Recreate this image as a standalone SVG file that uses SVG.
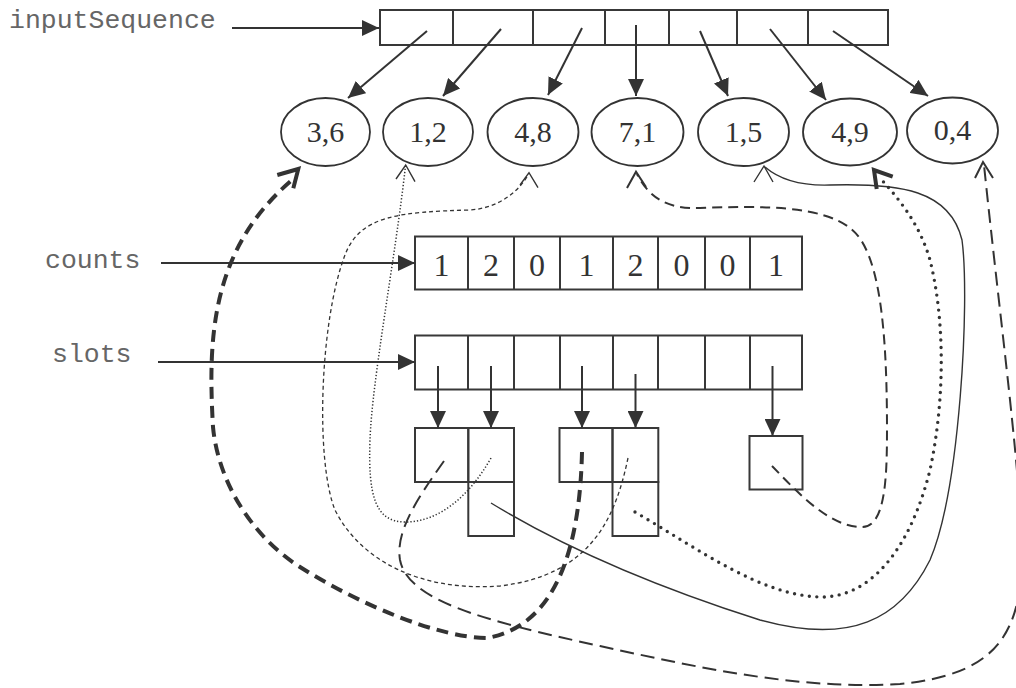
<svg xmlns="http://www.w3.org/2000/svg" width="1016" height="688" viewBox="0 0 1016 688">
<style>
.box{fill:none;stroke:#383838;stroke-width:2}
.ell{fill:none;stroke:#333;stroke-width:1.8}
.num{font-family:"Liberation Serif","Times New Roman",serif;fill:#333;text-anchor:middle}
.lbl{font-family:"Liberation Mono","Courier New",monospace;font-size:26.5px;fill:#666}
.ar{fill:none;stroke:#333;stroke-width:2}
.c{fill:none;stroke:#333}
.thick{stroke-width:4;stroke-dasharray:12 7}
.med{stroke-width:2;stroke-dasharray:14 7}
.md{stroke-width:2;stroke-dasharray:10 6}
.tdash{stroke-width:1.3;stroke-dasharray:4 3}
.tdot{stroke-width:1.5;stroke-dasharray:1.3 2}
.sol{stroke-width:1.4}
.dots{stroke-width:3.4;stroke-dasharray:0 7.5;stroke-linecap:round}
.v{fill:none;stroke:#333;stroke-linejoin:miter}
</style>
<defs>
<marker id="ah" markerUnits="userSpaceOnUse" markerWidth="18" markerHeight="16" viewBox="0 0 18 16" refX="17" refY="8" orient="auto">
<path d="M0,0 L17,8 L0,16 Z" fill="#333"/>
</marker>
</defs>

<g id="label-inputSequence"><text class="lbl" x="9" y="28">inputSequence</text></g>
<g id="label-counts"><text class="lbl" x="45" y="267.5">counts</text></g>
<g id="label-slots"><text class="lbl" x="52" y="361.5">slots</text></g>

<g id="inputSequence-array">
<rect class="box" x="380" y="10" width="508" height="35"/>
<path class="box" d="M453,10V45M533,10V45M605,10V45M669,10V45M737,10V45M808,10V45"/>
</g>

<g id="node-3-6"><ellipse class="ell" cx="325.5" cy="132" rx="44.5" ry="34"/><text class="num" x="325.5" y="142" font-size="30">3,6</text></g>
<g id="node-1-2"><ellipse class="ell" cx="428" cy="132" rx="45" ry="34"/><text class="num" x="428" y="142" font-size="30">1,2</text></g>
<g id="node-4-8"><ellipse class="ell" cx="533" cy="132" rx="45.5" ry="34"/><text class="num" x="533" y="142" font-size="30">4,8</text></g>
<g id="node-7-1"><ellipse class="ell" cx="637.5" cy="132" rx="46" ry="34"/><text class="num" x="637.5" y="142" font-size="30">7,1</text></g>
<g id="node-1-5"><ellipse class="ell" cx="743.5" cy="132" rx="45.5" ry="34"/><text class="num" x="743.5" y="142" font-size="30">1,5</text></g>
<g id="node-4-9"><ellipse class="ell" cx="850" cy="132" rx="47" ry="33.5"/><text class="num" x="850" y="142" font-size="30">4,9</text></g>
<g id="node-0-4"><ellipse class="ell" cx="952.5" cy="130.5" rx="45.5" ry="33"/><text class="num" x="952.5" y="140" font-size="30">0,4</text></g>

<g id="counts-array">
<rect class="box" x="415" y="236.5" width="387" height="53"/>
<path class="box" d="M468,236.5V289.5M514,236.5V289.5M560,236.5V289.5M613,236.5V289.5M658,236.5V289.5M705,236.5V289.5M750,236.5V289.5"/>
<g class="num" font-size="32">
<text x="441.5" y="276">1</text><text x="491" y="276">2</text><text x="537" y="276">0</text><text x="586.5" y="276">1</text><text x="635.5" y="276">2</text><text x="681.5" y="276">0</text><text x="727.5" y="276">0</text><text x="776" y="276">1</text>
</g>
</g>

<g id="slots-array">
<rect class="box" x="415" y="335.5" width="387" height="54"/>
<path class="box" d="M468,335.5V389.5M514,335.5V389.5M560,335.5V389.5M613,335.5V389.5M658,335.5V389.5M705,335.5V389.5M750,335.5V389.5"/>
</g>

<g id="bucket-0">
<rect class="box" x="415" y="428" width="53.3" height="54"/>
</g>
<g id="bucket-1">
<rect class="box" x="468.3" y="428" width="45.7" height="54"/>
<rect class="box" x="468.3" y="482" width="45.7" height="54"/>
</g>
<g id="bucket-3">
<rect class="box" x="559.5" y="428" width="53" height="54"/>
</g>
<g id="bucket-4">
<rect class="box" x="612.5" y="428" width="45.8" height="54"/>
<rect class="box" x="612.5" y="482" width="45.8" height="54"/>
</g>
<g id="bucket-7">
<rect class="box" x="749.5" y="436" width="53" height="53.5"/>
</g>

<g id="connectors">
<line class="ar" x1="232" y1="28" x2="379" y2="28" marker-end="url(#ah)"/>
<line class="ar" x1="161" y1="263" x2="415" y2="263" marker-end="url(#ah)"/>
<line class="ar" x1="158" y1="362" x2="415" y2="362" marker-end="url(#ah)"/>

<line class="ar" x1="427" y1="31" x2="348" y2="98" marker-end="url(#ah)"/>
<line class="ar" x1="501" y1="29" x2="443" y2="96" marker-end="url(#ah)"/>
<line class="ar" x1="582" y1="28" x2="548" y2="95" marker-end="url(#ah)"/>
<line class="ar" x1="636" y1="25" x2="636" y2="96" marker-end="url(#ah)"/>
<line class="ar" x1="700" y1="31" x2="728" y2="96" marker-end="url(#ah)"/>
<line class="ar" x1="770" y1="29" x2="826" y2="100" marker-end="url(#ah)"/>
<line class="ar" x1="833" y1="31" x2="928" y2="96" marker-end="url(#ah)"/>

<line class="ar" x1="438" y1="366" x2="438" y2="428" marker-end="url(#ah)"/>
<line class="ar" x1="491" y1="366" x2="491" y2="428" marker-end="url(#ah)"/>
<line class="ar" x1="582" y1="366" x2="582" y2="428" marker-end="url(#ah)"/>
<line class="ar" x1="635.5" y1="374" x2="635.5" y2="428" marker-end="url(#ah)"/>
<line class="ar" x1="772.5" y1="366" x2="772.5" y2="436" marker-end="url(#ah)"/>

<path class="c thick" d="M582,452 C580,540 560,625 487,638 C440,638 360,605 300,567 C250,535 218,480 213,427 C208,340 210,250 292,180"/>
<polyline class="v" stroke-width="4" points="277.3,175 298.3,169 293.3,188.3"/>

<path class="c med" d="M444,461 C420,495 395,530 400,560 C408,600 480,620 600,646 C700,668 800,690 900,684 C990,675 1020,640 1022,560 C1022,480 1000,320 984,165"/>
<polyline class="v" stroke-width="2" points="975,178 983,162 993,178"/>

<path class="c tdot" d="M491,458 C470,495 440,522 405,522 C375,522 368,495 370,440 C372,380 395,260 405.5,166"/>
<polyline class="v" stroke-width="1.4" points="396,179 405.7,165 415,181.7"/>

<path class="c tdash" d="M628,458 C615,520 590,575 500,586 C420,592 360,560 335,510 C315,460 320,320 345,255 C360,215 400,212 470,210 C500,208 520,190 528.5,174"/>
<polyline class="v" stroke-width="1.4" points="520,185 529,172.7 538,187.7"/>

<path class="c md" d="M772,466 C800,495 830,527 862,527 C885,527 887,480 887,430 C887,330 880,250 850,228 C820,205 760,206 700,208 C670,209 650,200 637,174"/>
<polyline class="v" stroke-width="2" points="627,188 636,171.7 646,187"/>

<path class="c sol" d="M491,503 C560,545 650,585 760,620 C850,645 900,620 930,560 C960,490 970,300 962,240 C950,190 900,183 830,185 C800,186 780,180 765,167"/>
<polyline class="v" stroke-width="1.4" points="754,182 764,166 773,182"/>

<path class="c dots" d="M635,512 C700,550 760,595 820,597 C870,598 910,550 930,470 C945,400 945,320 930,260 C920,225 900,200 880,178"/>
<polyline class="v" stroke-width="4" points="876.7,189 874,170 892.7,176.7"/>
</g>
</svg>
